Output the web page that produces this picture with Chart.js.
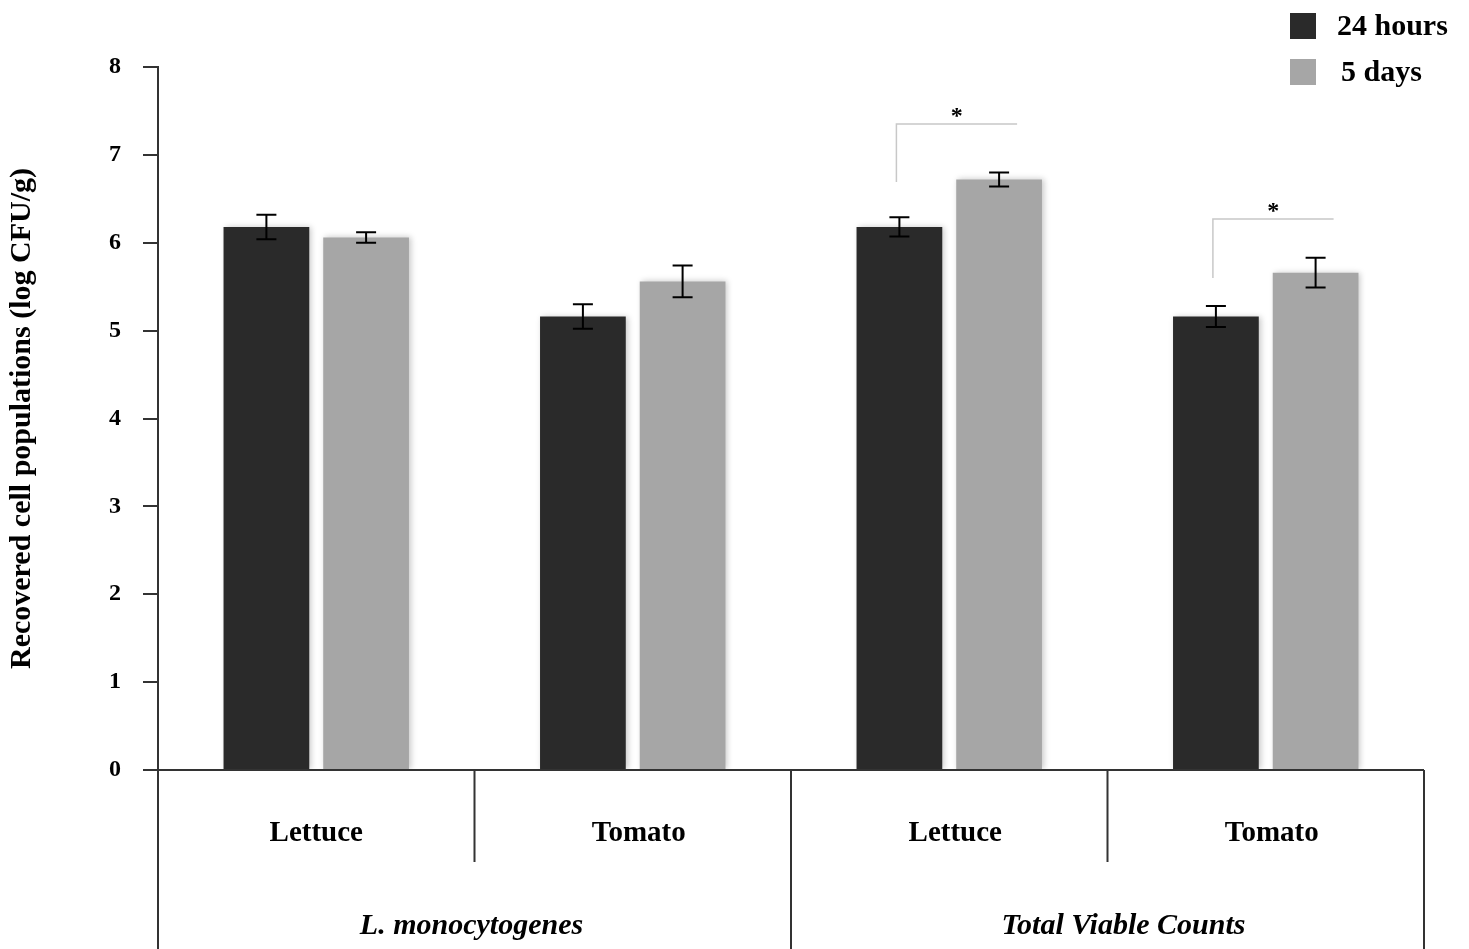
<!DOCTYPE html>
<html>
<head>
<meta charset="utf-8">
<script src="https://cdn.jsdelivr.net/npm/chart.js@4/dist/chart.umd.min.js"></script>
<style>
  html, body { margin: 0; padding: 0; background: #fff; }
  #wrap { width: 1469px; height: 949px; }
</style>
</head>
<body>
<div id="wrap"><canvas id="chart"></canvas></div>
<script>
// Données
const categories = ['Lettuce', 'Tomato', 'Lettuce', 'Tomato'];
const groups = ['L. monocytogenes', 'Total Viable Counts'];
const hours24 = [6.18, 5.16, 6.18, 5.16];
const days5 = [6.06, 5.56, 6.72, 5.66];
const err24 = [0.14, 0.14, 0.11, 0.12];
const err5 = [0.06, 0.18, 0.08, 0.17];
// crochets de significativité (catégorie, hauteur du trait, bas du trait gauche)
const sigCats = [2, 3];
const sigTop = [7.35, 6.27];
const sigBase = [6.69, 5.60];

const serif = '"Liberation Serif", "Times New Roman", serif';
const ink = '#333333';

// ombre légère derrière les barres
const shadowPlugin = {
    id: 'barShadow',
    beforeDatasetsDraw(chart) {
        const ctx = chart.ctx;
        ctx.save();
        ctx.shadowColor = 'rgba(0,0,0,0.22)';
        ctx.shadowBlur = 6;
        ctx.shadowOffsetX = 2;
    },
    afterDatasetsDraw(chart) {
        chart.ctx.restore();
    }
};

// barres d'erreur, axe x, séparateurs, libellés, crochets, légende
const decorPlugin = {
    id: 'decor',
    afterDatasetsDraw(chart) {
        const ctx = chart.ctx;
        const y = chart.scales.y;
        const x = chart.scales.x;
        const area = chart.chartArea;

        // barres d'erreur
        const errs = [err24, err5];
        chart.data.datasets.forEach((ds, di) => {
            const meta = chart.getDatasetMeta(di);
            meta.data.forEach((bar, i) => {
                const v = ds.data[i];
                const e = errs[di][i];
                const yt = y.getPixelForValue(v + e);
                const yb = y.getPixelForValue(v - e);
                ctx.save();
                ctx.strokeStyle = '#000';
                ctx.lineWidth = 2;
                ctx.beginPath();
                ctx.moveTo(bar.x, yt); ctx.lineTo(bar.x, yb);
                ctx.moveTo(bar.x - 10, yt); ctx.lineTo(bar.x + 10, yt);
                ctx.moveTo(bar.x - 10, yb); ctx.lineTo(bar.x + 10, yb);
                ctx.stroke();
                ctx.restore();
            });
        });

        // axe x et séparateurs
        const y0 = y.getPixelForValue(0);
        const bounds = [area.left];
        for (let i = 0; i < categories.length - 1; i++) {
            bounds.push((x.getPixelForValue(i) + x.getPixelForValue(i + 1)) / 2);
        }
        bounds.push(area.right);
        ctx.save();
        ctx.strokeStyle = ink;
        ctx.lineWidth = 2;
        ctx.beginPath();
        ctx.moveTo(area.left, y0); ctx.lineTo(area.right, y0);
        bounds.forEach((bx, i) => {
            const full = (i % 2 === 0);
            ctx.moveTo(bx, y0);
            ctx.lineTo(bx, full ? chart.height : y0 + 92);
        });
        ctx.stroke();

        // libellés des catégories
        ctx.fillStyle = '#000';
        ctx.textAlign = 'center';
        ctx.textBaseline = 'middle';
        ctx.font = 'bold 29px ' + serif;
        categories.forEach((c, i) => {
            const shift = i === 0 ? 0 : 6;
            ctx.fillText(c, x.getPixelForValue(i) + shift, y0 + 64);
        });
        ctx.font = 'italic bold 30px ' + serif;
        groups.forEach((g, i) => {
            const cx = (bounds[i * 2] + bounds[i * 2 + 2]) / 2;
            ctx.fillText(g, cx + (i === 0 ? -3 : 16), y0 + 156);
        });

        // crochets de significativité
        const m0 = chart.getDatasetMeta(0);
        const m1 = chart.getDatasetMeta(1);
        sigCats.forEach((c, k) => {
            const xl = m0.data[c].x - 3;
            const xr = m1.data[c].x + 18;
            const yt = y.getPixelForValue(sigTop[k]);
            const yb = y.getPixelForValue(sigBase[k]);
            ctx.strokeStyle = '#c8c8c8';
            ctx.lineWidth = 1.5;
            ctx.beginPath();
            ctx.moveTo(xl, yb); ctx.lineTo(xl, yt); ctx.lineTo(xr, yt);
            ctx.stroke();
            ctx.fillStyle = '#000';
            ctx.font = 'bold 24px ' + serif;
            ctx.fillText('*', (xl + xr) / 2, yt - 7);
        });

        // légende
        ctx.textAlign = 'left';
        ctx.font = 'bold 30px ' + serif;
        chart.data.datasets.forEach((ds, i) => {
            const top = 13 + i * 46;
            ctx.fillStyle = ds.backgroundColor;
            ctx.fillRect(1290, top, 26, 26);
            ctx.fillStyle = '#000';
            ctx.fillText(ds.label, 1337 + i * 4, top + 14);
        });
        ctx.restore();
    }
};

new Chart(document.getElementById('chart'), {
    type: 'bar',
    data: {
        labels: categories,
        datasets: [
            {
                label: '24 hours',
                data: hours24,
                backgroundColor: '#2a2a2a',
                categoryPercentage: 0.63,
                barPercentage: 0.86
            },
            {
                label: '5 days',
                data: days5,
                backgroundColor: '#a6a6a6',
                categoryPercentage: 0.63,
                barPercentage: 0.86
            }
        ]
    },
    options: {
        responsive: true,
        maintainAspectRatio: false,
        animation: false,
        layout: {
            padding: { top: 67, bottom: 179, right: 45, left: 0 }
        },
        scales: {
            x: { display: false },
            y: {
                min: 0,
                max: 8,
                afterFit(scale) { scale.width = 158; },
                border: { display: true, color: ink, width: 2 },
                grid: {
                    drawOnChartArea: false,
                    drawTicks: true,
                    tickLength: 15,
                    color: ink,
                    lineWidth: 2
                },
                ticks: {
                    stepSize: 1,
                    padding: 22,
                    color: '#000',
                    font: { family: serif, size: 24, weight: 'bold' }
                },
                title: {
                    display: true,
                    text: 'Recovered cell populations (log CFU/g)',
                    color: '#000',
                    padding: { top: 4, bottom: 0 },
                    font: { family: serif, size: 30, weight: 'bold' }
                }
            }
        },
        plugins: {
            legend: { display: false },
            tooltip: { enabled: false }
        }
    },
    plugins: [shadowPlugin, decorPlugin]
});
</script>
</body>
</html>
